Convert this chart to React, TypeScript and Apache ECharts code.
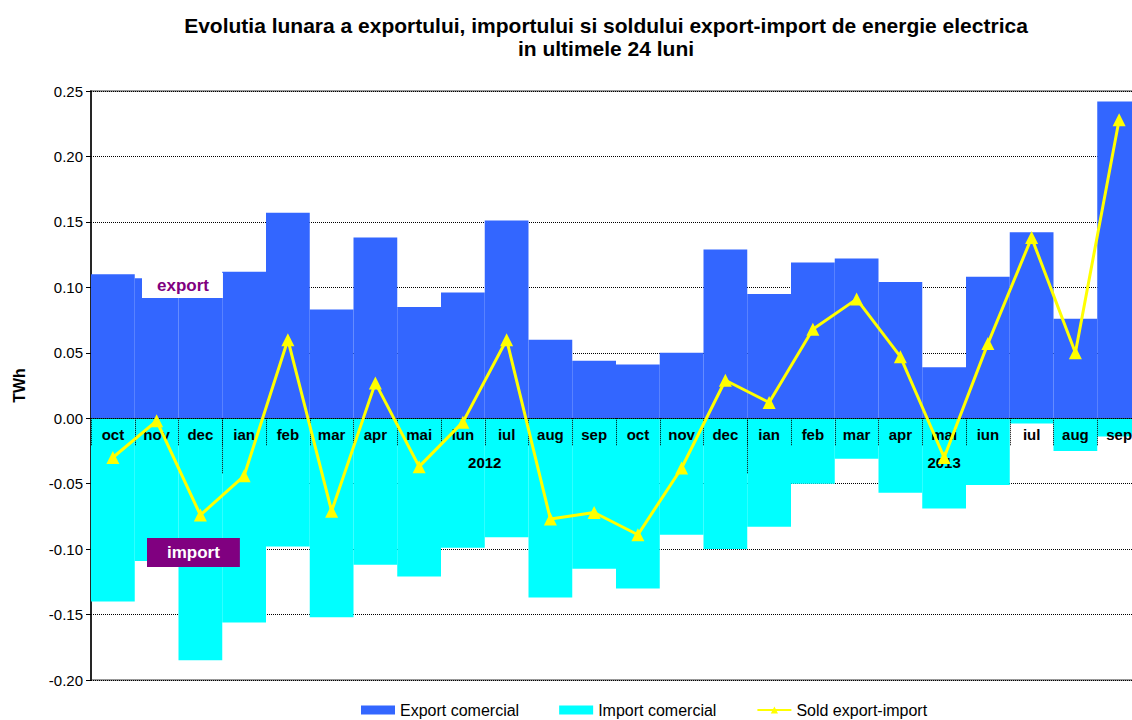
import React, { useEffect, useRef } from 'react';
import * as echarts from 'echarts';

const months = ['oct', 'nov', 'dec', 'ian', 'feb', 'mar', 'apr', 'mai', 'iun', 'iul', 'aug', 'sep', 'oct', 'nov', 'dec', 'ian', 'feb', 'mar', 'apr', 'mai', 'iun', 'iul', 'aug', 'sep'];
const exportValues = [0.110, 0.107, 0.111, 0.112, 0.157, 0.083, 0.138, 0.085, 0.096, 0.151, 0.060, 0.044, 0.041, 0.050, 0.129, 0.095, 0.119, 0.122, 0.104, 0.039, 0.108, 0.142, 0.076, 0.242];
const importValues = [-0.140, -0.109, -0.185, -0.156, -0.098, -0.152, -0.112, -0.121, -0.099, -0.091, -0.137, -0.115, -0.130, -0.089, -0.100, -0.083, -0.050, -0.031, -0.057, -0.069, -0.051, -0.004, -0.025, -0.014];
const soldValues = [-0.030, -0.002, -0.074, -0.044, 0.060, -0.071, 0.027, -0.037, -0.003, 0.060, -0.077, -0.072, -0.089, -0.038, 0.029, 0.012, 0.068, 0.091, 0.047, -0.030, 0.057, 0.138, 0.050, 0.228];
const years = ['2012', '2013'];
const yTicks = { min: -0.2, max: 0.25, interval: 0.05 };
const seriesNames = ['Export comercial', 'Import comercial', 'Sold export-import'];

const FONT = 'Arial, "Liberation Sans", sans-serif';

// year spans derived from the month list ("ian" starts a year)
const yearStarts = months.map((m, i) => (m === 'ian' ? i : -1)).filter((i) => i >= 0);
const yearEnds = yearStarts.map((s, k) => (k + 1 < yearStarts.length ? yearStarts[k + 1] : months.length));
const yearCenters = yearStarts.map((s, k) => (s + yearEnds[k]) / 2);

const GRID = { left: 91, top: 91, width: 1050, height: 589 };
// shift the month axes up from the grid bottom to the zero line
const zeroOffset = -GRID.height * (0 - yTicks.min) / (yTicks.max - yTicks.min);

export default function App() {
  const ref = useRef<HTMLDivElement>(null);
  useEffect(() => {
    if (!ref.current) return;
    const chart = echarts.init(ref.current, undefined, { renderer: 'svg' });
    chart.setOption({
      animation: false,
      backgroundColor: '#ffffff',
      title: {
        text: 'Evolutia lunara a exportului, importului si soldului export-import de energie electrica\nin ultimele 24 luni',
        left: 'center',
        top: 9,
        textStyle: { fontFamily: FONT, fontWeight: 'bold', fontSize: 21, lineHeight: 23, color: '#000' },
      },
      legend: {
        left: 361,
        top: 702,
        itemWidth: 34,
        itemHeight: 9,
        itemGap: 40,
        padding: 0,
        textStyle: { fontFamily: FONT, fontSize: 16, color: '#000' },
        data: [
          { name: seriesNames[0], icon: 'rect' },
          { name: seriesNames[1], icon: 'rect' },
          { name: seriesNames[2] },
        ],
      },
      grid: {
        ...GRID,
        show: true,
        borderColor: '#999',
        borderWidth: 2,
        containLabel: false,
        outerBoundsMode: 'none',
      },
      xAxis: [
        {
          type: 'category',
          data: months,
          position: 'bottom',
          offset: zeroOffset,
          z: 10,
          axisLine: { onZero: false, lineStyle: { color: '#000', type: 'dotted', width: 1 } },
          axisTick: { show: true, interval: 0, length: 27, lineStyle: { color: '#000', type: 'dotted', width: 1 } },
          axisLabel: { interval: 0, margin: 9, fontFamily: FONT, fontWeight: 'bold', fontSize: 15, color: '#000' },
          splitLine: { show: false },
        },
        {
          type: 'value',
          min: 0,
          max: months.length,
          position: 'bottom',
          offset: zeroOffset,
          z: 10,
          axisLine: { show: false, onZero: false },
          axisTick: { show: true, customValues: yearStarts, length: 55, lineStyle: { color: '#000', type: 'dotted', width: 1 } },
          axisLabel: {
            show: true,
            customValues: yearCenters,
            margin: 37,
            fontFamily: FONT,
            fontWeight: 'bold',
            fontSize: 15,
            color: '#000',
            formatter: (v: number) => {
              const k = yearCenters.findIndex((c) => Math.abs(c - v) < 1e-6);
              return k >= 0 ? years[k] : '';
            },
          },
          splitLine: { show: false },
        },
      ],
      yAxis: {
        type: 'value',
        min: yTicks.min,
        max: yTicks.max,
        interval: yTicks.interval,
        name: 'TWh',
        nameLocation: 'middle',
        nameGap: 64,
        nameTextStyle: { fontFamily: FONT, fontWeight: 'bold', fontSize: 16, color: '#000' },
        axisLine: { show: true, onZero: false, lineStyle: { color: '#000', width: 1.5 } },
        axisTick: { show: true, length: 5, lineStyle: { color: '#000' } },
        axisLabel: {
          margin: 8,
          fontFamily: FONT,
          fontSize: 15,
          color: '#000',
          formatter: (v: number) => (Math.abs(v) < 1e-9 ? '0.00' : v.toFixed(2)),
        },
        splitLine: { show: true, lineStyle: { color: '#000', type: 'dotted', width: 1 } },
      },
      series: [
        {
          name: seriesNames[0],
          type: 'bar',
          xAxisIndex: 0,
          data: exportValues,
          barCategoryGap: '0%',
          barGap: '-100%',
          itemStyle: { color: '#3366FF' },
          z: 2,
        },
        {
          name: seriesNames[1],
          type: 'bar',
          xAxisIndex: 0,
          data: importValues,
          barCategoryGap: '0%',
          barGap: '-100%',
          itemStyle: { color: '#00FFFF' },
          z: 2,
        },
        {
          name: seriesNames[2],
          type: 'line',
          xAxisIndex: 0,
          data: soldValues,
          symbol: 'triangle',
          symbolSize: 13,
          lineStyle: { color: '#FFFF00', width: 3 },
          itemStyle: { color: '#FFFF00' },
          z: 20,
        },
      ],
      graphic: [
        {
          type: 'text',
          left: 142,
          top: 273,
          z: 100,
          style: {
            text: 'export',
            fill: '#800080',
            font: `bold 17px ${FONT}`,
            backgroundColor: '#ffffff',
            padding: [4, 14, 4, 15],
          },
        },
        {
          type: 'text',
          left: 147,
          top: 538,
          z: 100,
          style: {
            text: 'import',
            fill: '#ffffff',
            font: `bold 17px ${FONT}`,
            backgroundColor: '#800080',
            padding: [6, 20, 6, 20],
          },
        },
      ],
    });
    return () => chart.dispose();
  }, []);
  return (
    <div style={{ position: 'fixed', left: 0, top: 0, width: 1132, height: 720, overflow: 'hidden', background: '#fff' }}>
      <div ref={ref} style={{ width: 1212, height: 720 }} />
    </div>
  );
}
